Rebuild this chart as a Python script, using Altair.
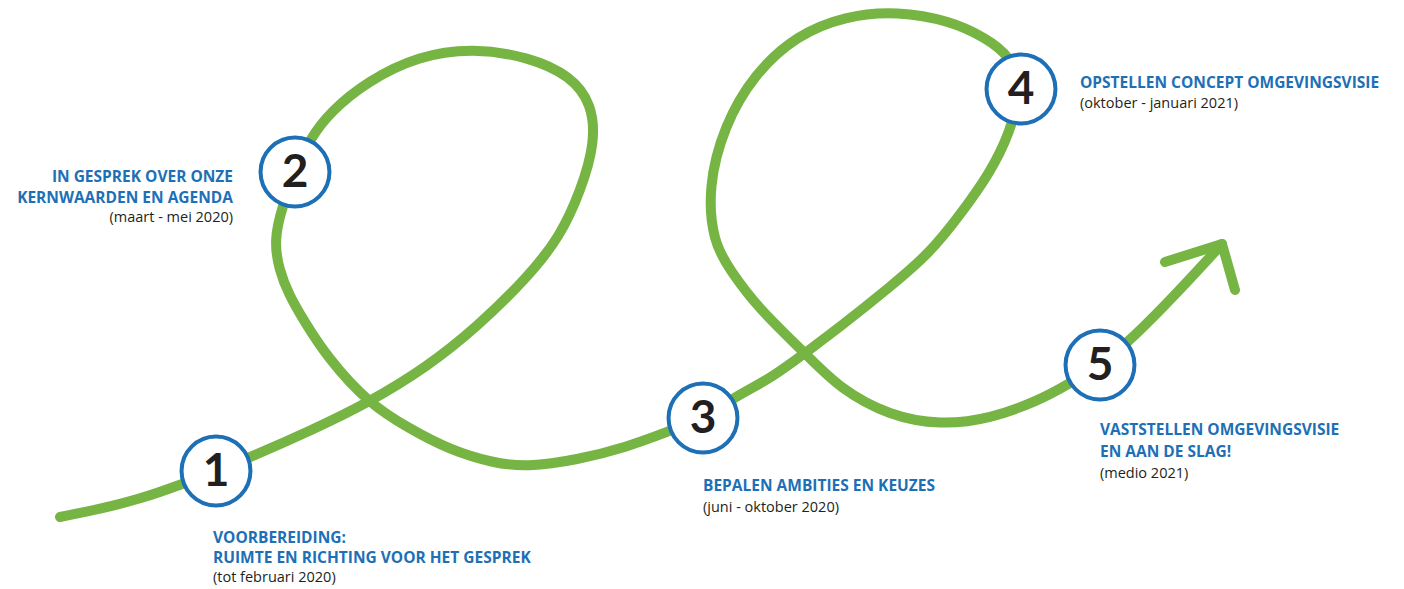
import altair as alt
import pandas as pd

# ---- green route (pixel coordinates) ----
curve_x = [60, 100, 140, 180, 216, 253, 310, 368, 427, 477, 527, 560, 581, 595, 592, 571, 529, 473, 418,
           368, 331, 309, 295, 282, 274, 279, 289, 304, 327, 368, 410, 450, 493, 527, 577, 627, 667, 703,
           733, 773, 805, 840, 890, 930, 960, 990, 1010, 1021, 1011, 984, 951, 897, 845, 797, 754, 724,
           708, 713, 730, 757, 805, 840, 890, 940, 990, 1040, 1067, 1100, 1133, 1178, 1222]
curve_y = [517, 509, 499, 485, 471, 456, 431, 403, 367, 327, 278, 237, 190, 143, 104, 76, 57, 48, 56,
           81, 111, 140, 172, 207, 240, 270, 295, 321, 357, 403, 429, 450, 463, 467, 460, 447, 432, 418,
           398, 377, 353, 327, 287, 253, 215, 173, 133, 89, 56, 37, 21, 11, 16, 35, 74, 126,
           187, 242, 270, 307, 353, 389, 416, 425, 419, 400, 385, 365, 338, 292, 244]

arrow_x = [1165, 1222, 1235]
arrow_y = [262, 244, 290]

# ---- steps ----
step_num = ["1", "2", "3", "4", "5"]
step_x = [216, 295, 703, 1021, 1100]
step_y = [471, 172, 418, 89, 365]

# ---- label lines ----
left_titles = ["VOORBEREIDING:", "RUIMTE EN RICHTING VOOR HET GESPREK",
               "BEPALEN AMBITIES EN KEUZES",
               "OPSTELLEN CONCEPT OMGEVINGSVISIE",
               "VASTSTELLEN OMGEVINGSVISIE", "EN AAN DE SLAG!"]
left_titles_x = [213, 213, 703, 1080, 1100, 1100]
left_titles_y = [543, 563, 491, 88, 435, 457]

left_subs = ["(tot februari 2020)", "(juni - oktober 2020)", "(oktober - januari 2021)", "(medio 2021)"]
left_subs_x = [213, 703, 1080, 1100]
left_subs_y = [582, 512, 108, 478]

right_titles = ["IN GESPREK OVER ONZE", "KERNWAARDEN EN AGENDA"]
right_titles_x = [233, 233]
right_titles_y = [182, 203]

right_subs = ["(maart - mei 2020)"]
right_subs_x = [233]
right_subs_y = [222]

GREEN = "#76b443"
BLUE = "#1d6fb6"
INK = "#231f20"

xs = alt.Scale(domain=[8, 1396], nice=False, zero=False)
ys = alt.Scale(domain=[8, 589], nice=False, zero=False, reverse=True)

def X():
    return alt.X("x:Q", scale=xs, axis=None)

def Y():
    return alt.Y("y:Q", scale=ys, axis=None)

curve_df = pd.DataFrame({"x": curve_x, "y": curve_y, "i": range(len(curve_x))})
arrow_df = pd.DataFrame({"x": arrow_x, "y": arrow_y, "i": range(len(arrow_x))})
step_df = pd.DataFrame({"x": step_x, "y": step_y, "n": step_num})
lt_df = pd.DataFrame({"x": left_titles_x, "y": left_titles_y, "t": left_titles})
ls_df = pd.DataFrame({"x": left_subs_x, "y": left_subs_y, "t": left_subs})
rt_df = pd.DataFrame({"x": right_titles_x, "y": right_titles_y, "t": right_titles})
rs_df = pd.DataFrame({"x": right_subs_x, "y": right_subs_y, "t": right_subs})

curve = alt.Chart(curve_df).mark_line(
    interpolate="basis", stroke=GREEN, strokeWidth=10, strokeCap="round"
).encode(x=X(), y=Y(), order="i:Q")

arrow = alt.Chart(arrow_df).mark_line(
    stroke=GREEN, strokeWidth=10, strokeCap="round", strokeJoin="round"
).encode(x=X(), y=Y(), order="i:Q")

circles = alt.Chart(step_df).mark_point(
    shape="circle", size=4750, filled=True, fill="white", fillOpacity=1,
    stroke=BLUE, strokeWidth=4, opacity=1
).encode(x=X(), y=Y())

nums = alt.Chart(step_df).mark_text(
    font="Lato", fontSize=46, fontWeight="bold", color=INK, align="center", baseline="middle", dy=1
).encode(x=X(), y=Y(), text="n:N")

lt = alt.Chart(lt_df).mark_text(
    font="Open Sans", fontSize=15.5, fontWeight="bold", color=BLUE, align="left", baseline="alphabetic"
).encode(x=X(), y=Y(), text="t:N")

ls = alt.Chart(ls_df).mark_text(
    font="Open Sans", fontSize=14.5, color=INK, align="left", baseline="alphabetic"
).encode(x=X(), y=Y(), text="t:N")

rt = alt.Chart(rt_df).mark_text(
    font="Open Sans", fontSize=15.5, fontWeight="bold", color=BLUE, align="right", baseline="alphabetic"
).encode(x=X(), y=Y(), text="t:N")

rs = alt.Chart(rs_df).mark_text(
    font="Open Sans", fontSize=14.5, color=INK, align="right", baseline="alphabetic"
).encode(x=X(), y=Y(), text="t:N")

chart = alt.layer(curve, arrow, circles, nums, lt, ls, rt, rs).properties(
    width=1388, height=581, padding=0, background="white",
    autosize=alt.AutoSizeParams(type="none")
).configure_view(stroke=None)

chart.save("out.html", embed_options={"renderer": "svg", "actions": False})
